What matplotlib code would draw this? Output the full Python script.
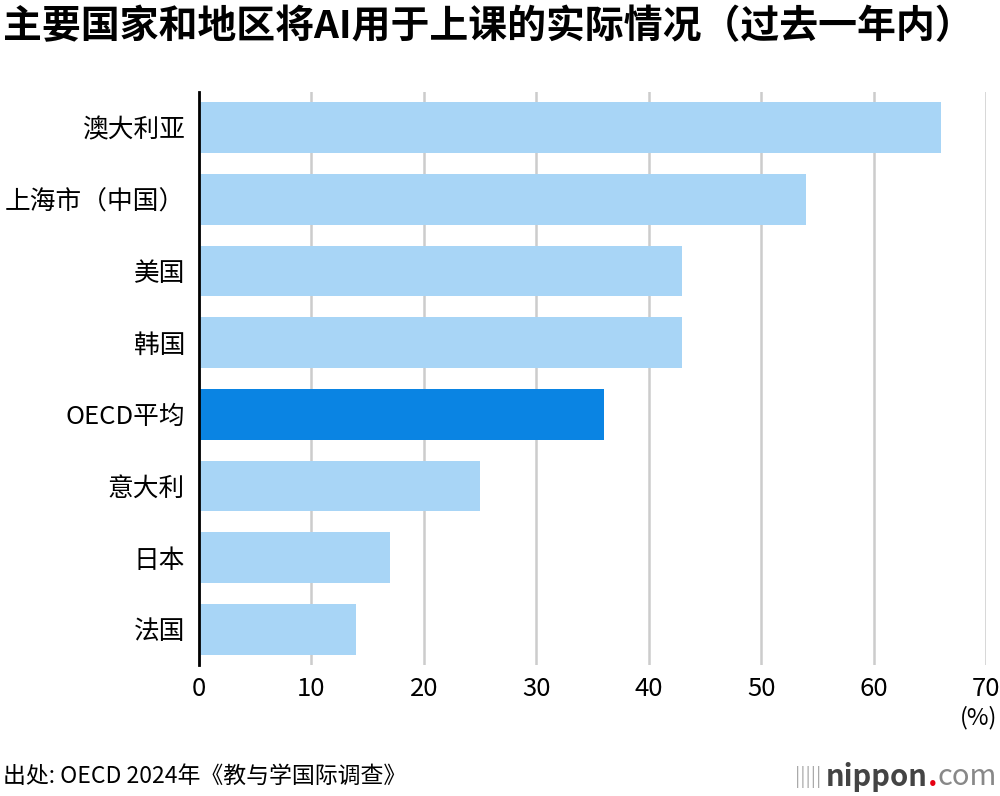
import matplotlib
matplotlib.use("Agg")
import matplotlib.pyplot as plt

plt.rcParams['font.family'] = ['Noto Sans CJK SC', 'DejaVu Sans']

categories = ["澳大利亚", "上海市（中国）", "美国", "韩国", "OECD平均", "意大利", "日本", "法国"]
values = [66, 54, 43, 43, 36, 25, 17, 14]
highlight = "OECD平均"
xticks = [0, 10, 20, 30, 40, 50, 60, 70]

fig = plt.figure(figsize=(10, 7.96), dpi=100)
ax = fig.add_axes([0.199, 0.1646, 0.787, 0.7198])

colors = ["#0a84e3" if c == highlight else "#a8d5f6" for c in categories]
y = list(range(len(categories)))
ax.barh(y, values, height=0.71, color=colors, zorder=2)

ax.set_xlim(0, 70)
ax.set_ylim(len(categories) - 0.5, -0.5)
ax.set_yticks(y)
ax.set_yticklabels(categories, fontsize=18.5)
ax.set_xticks(xticks)
ax.set_xticklabels([str(t) for t in xticks], fontsize=18.5)
ax.tick_params(axis='y', length=0, pad=10)
ax.tick_params(axis='x', length=0, pad=8)
for s in ["top", "right", "bottom"]:
    ax.spines[s].set_visible(False)
ax.spines["left"].set_linewidth(2)
ax.spines["left"].set_color("black")
ax.spines["left"].set_zorder(3)
ax.grid(axis='x', color="#cccccc", linewidth=1.8, zorder=1)
ax.set_axisbelow(True)

fig.text(0.003, 0.966, "主要国家和地区将AI用于上课的实际情况（过去一年内）", fontsize=28,
         fontweight='black', ha='left', va='center')
fig.text(0.997, 0.098, "(%)", fontsize=17, ha='right', va='center')
fig.text(0.003, 0.024, "出处: OECD 2024年《教与学国际调查》", fontsize=16.5, ha='left', va='center')

t3 = fig.text(0.997, 0.024, "com", fontsize=21, ha='right', va='center', color="#888888")
fig.canvas.draw()
r = fig.canvas.get_renderer()
bb = t3.get_window_extent(r)
x2 = bb.x0 / fig.bbox.width
t2 = fig.text(x2, 0.024, ".", fontsize=21, ha='right', va='center', color="#e60012", fontweight='bold')
bb = t2.get_window_extent(r)
x1 = bb.x0 / fig.bbox.width
t1 = fig.text(x1, 0.024, "nippon", fontsize=21, ha='right', va='center', color="#444444", fontweight='bold')
bb = t1.get_window_extent(r)
x0 = bb.x0 / fig.bbox.width
fig.text(x0 - 0.005, 0.024, "|||||", fontsize=14, ha='right', va='center', color="#aaaaaa")

fig.savefig("out.png", dpi=100)
